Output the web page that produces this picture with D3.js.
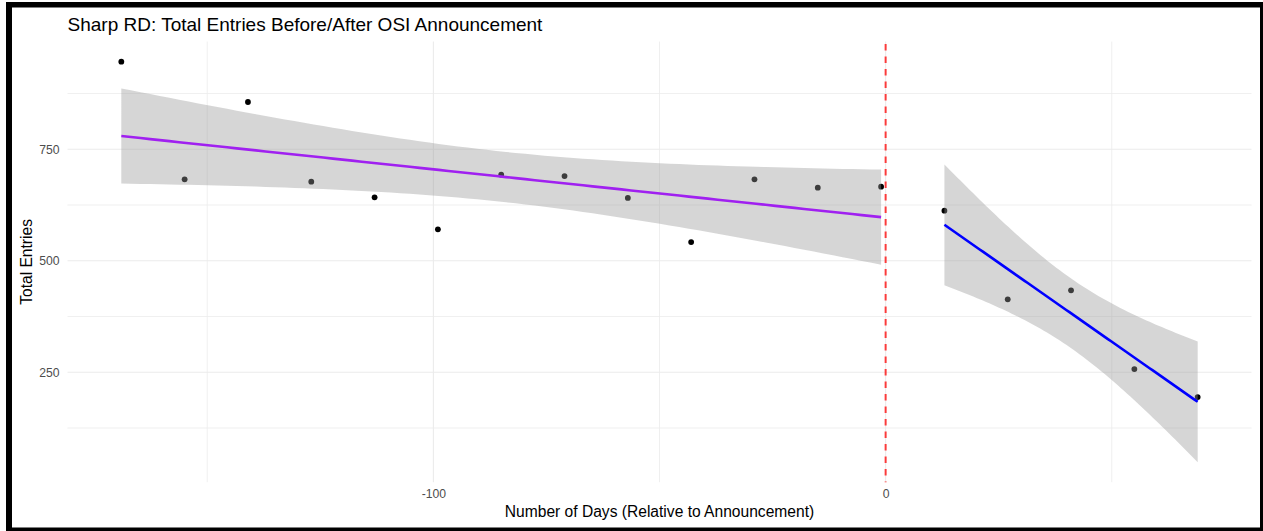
<!DOCTYPE html>
<html>
<head>
<meta charset="utf-8">
<script src="https://cdn.jsdelivr.net/npm/d3@7/dist/d3.min.js"></script>
<style>
  html, body { margin: 0; padding: 0; background: #fff; }
  svg { display: block; }
  text { font-family: "Liberation Sans", Arial, Helvetica, sans-serif; }
</style>
</head>
<body>
<svg id="chart" width="1263" height="531"></svg>
<script>
// ---- Data ----
const daysBefore = [-169, -155, -141, -127, -113, -99, -85, -71, -57, -43, -29, -15, -1];
const entriesBefore = [946.5, 682.7, 856, 677.4, 642.3, 570.5, 693, 690, 640.8, 542, 682.7, 663.9, 666.2];
const daysAfter = [13, 27, 41, 55, 69];
const entriesAfter = [612.3, 413.5, 433.7, 257.2, 194.4];
const xMajorBreaks = [-100, 0];
const xMinorBreaks = [-150, -50, 50];
const yMajorBreaks = [250, 500, 750];
const yMinorBreaks = [125, 375, 625, 875];
const cutoff = 0;
const tQuantBefore = 2.200985; // t(0.975, df=11)
const tQuantAfter = 3.182446;  // t(0.975, df=3)

const title = "Sharp RD: Total Entries Before/After OSI Announcement";
const xTitle = "Number of Days (Relative to Announcement)";
const yTitle = "Total Entries";

// ---- linear fit with 95% confidence band (like geom_smooth(method = "lm")) ----
function lmBand(xs, ys, tq, nOut) {
  const n = xs.length;
  const mx = d3.mean(xs), my = d3.mean(ys);
  let sxx = 0, sxy = 0;
  for (let i = 0; i < n; i++) { sxx += (xs[i]-mx)**2; sxy += (xs[i]-mx)*(ys[i]-my); }
  const b = sxy / sxx, a = my - b*mx;
  let ssr = 0;
  for (let i = 0; i < n; i++) ssr += (ys[i] - (a + b*xs[i]))**2;
  const s = Math.sqrt(ssr / (n - 2));
  const [x0, x1] = d3.extent(xs);
  const out = [];
  for (let i = 0; i < nOut; i++) {
    const x = x0 + (x1 - x0) * i / (nOut - 1);
    const fit = a + b*x;
    const se = s * Math.sqrt(1/n + (x-mx)**2 / sxx);
    out.push({x, fit, lo: fit - tq*se, hi: fit + tq*se});
  }
  return out;
}
const bandBefore = lmBand(daysBefore, entriesBefore, tQuantBefore, 80);
const bandAfter = lmBand(daysAfter, entriesAfter, tQuantAfter, 80);

// ---- Layout ----
const svg = d3.select("#chart");
const W = 1263, H = 531;
const panel = {left: 67.5, right: 1251.5, top: 41.6, bottom: 482.2};

const allX = daysBefore.concat(daysAfter);
const xr = d3.extent(allX);
const xPad = (xr[1]-xr[0]) * 0.05;
const x = d3.scaleLinear().domain([xr[0]-xPad, xr[1]+xPad]).range([panel.left, panel.right]);

const allY = entriesBefore.concat(entriesAfter)
  .concat(bandBefore.map(d => d.lo)).concat(bandBefore.map(d => d.hi))
  .concat(bandAfter.map(d => d.lo)).concat(bandAfter.map(d => d.hi));
const yr = d3.extent(allY);
const yPad = (yr[1]-yr[0]) * 0.05;
const y = d3.scaleLinear().domain([yr[0]-yPad, yr[1]+yPad]).range([panel.bottom, panel.top]);

// ---- Grid ----
const grid = svg.append("g");
grid.selectAll(".ymin").data(yMinorBreaks.filter(v => v >= y.domain()[0] && v <= y.domain()[1])).enter().append("line")
  .attr("x1", panel.left).attr("x2", panel.right)
  .attr("y1", d => y(d)).attr("y2", d => y(d))
  .attr("stroke", "#ebebeb").attr("stroke-width", 0.8);
grid.selectAll(".xmin").data(xMinorBreaks).enter().append("line")
  .attr("y1", panel.top).attr("y2", panel.bottom)
  .attr("x1", d => x(d)).attr("x2", d => x(d))
  .attr("stroke", "#ebebeb").attr("stroke-width", 0.8);
grid.selectAll(".ymaj").data(yMajorBreaks).enter().append("line")
  .attr("x1", panel.left).attr("x2", panel.right)
  .attr("y1", d => y(d)).attr("y2", d => y(d))
  .attr("stroke", "#ebebeb").attr("stroke-width", 1.1);
grid.selectAll(".xmaj").data(xMajorBreaks).enter().append("line")
  .attr("y1", panel.top).attr("y2", panel.bottom)
  .attr("x1", d => x(d)).attr("x2", d => x(d))
  .attr("stroke", "#ebebeb").attr("stroke-width", 1.1);

// ---- Axes (text only, like theme_minimal) ----
const fmt = d => String(d);
const xAxis = d3.axisBottom(x).tickValues(xMajorBreaks).tickSize(0).tickPadding(0).tickFormat(fmt);
const gx = svg.append("g").attr("transform", `translate(0,${panel.bottom + 7})`).call(xAxis);
gx.select(".domain").remove();
gx.attr("font-family", null).attr("font-size", null);
gx.selectAll("text").attr("fill", "#4d4d4d").style("font-size", "12.2px")
  .style("font-family", "'Liberation Sans', Arial, sans-serif").attr("dy", "0.71em");

const yAxis = d3.axisLeft(y).tickValues(yMajorBreaks).tickSize(0).tickPadding(0).tickFormat(fmt);
const gy = svg.append("g").attr("transform", `translate(${panel.left - 8},0)`).call(yAxis);
gy.select(".domain").remove();
gy.attr("font-family", null).attr("font-size", null);
gy.selectAll("text").attr("fill", "#4d4d4d").style("font-size", "12.2px")
  .style("font-family", "'Liberation Sans', Arial, sans-serif");

// ---- Points (drawn under the ribbons, as ggplot layers them) ----
const pts = daysBefore.map((d, i) => ({x: d, y: entriesBefore[i]}))
  .concat(daysAfter.map((d, i) => ({x: d, y: entriesAfter[i]})));
svg.append("g").selectAll("circle").data(pts).enter().append("circle")
  .attr("cx", d => x(d.x)).attr("cy", d => y(d.y)).attr("r", 2.9).attr("fill", "#000");

// ---- Ribbons + fitted lines ----
const area = d3.area().x(d => x(d.x)).y0(d => y(d.lo)).y1(d => y(d.hi));
const line = d3.line().x(d => x(d.x)).y(d => y(d.fit));
[[bandBefore, "#A020F0"], [bandAfter, "#0000FF"]].forEach(([b, col]) => {
  svg.append("path").datum(b).attr("d", area).attr("fill", "#999999").attr("fill-opacity", 0.4);
  svg.append("path").datum(b).attr("d", line).attr("fill", "none").attr("stroke", col).attr("stroke-width", 2.6);
});

// ---- Cutoff line ----
svg.append("line")
  .attr("x1", x(cutoff)).attr("x2", x(cutoff))
  .attr("y1", panel.top).attr("y2", panel.bottom)
  .attr("stroke", "#ff0000").attr("stroke-opacity", 0.75).attr("stroke-width", 2)
  .attr("stroke-dasharray", "6.3,6.2").attr("stroke-dashoffset", -2.5);

// ---- Titles ----
svg.append("text").attr("x", panel.left).attr("y", 30.5).attr("font-size", 19).attr("fill", "#000").text(title);
svg.append("text").attr("x", (panel.left + panel.right)/2).attr("y", 516.5).attr("text-anchor", "middle")
  .attr("font-size", 15.6).attr("fill", "#000").text(xTitle);
svg.append("text").attr("transform", `translate(32,${(panel.top + panel.bottom)/2}) rotate(-90)`)
  .attr("text-anchor", "middle").attr("font-size", 15.6).attr("fill", "#000").text(yTitle);

// ---- Black frame ----
const frame = svg.append("g").attr("fill", "#000");
frame.append("rect").attr("x", 6).attr("y", 2).attr("width", W - 6).attr("height", 5.5);
frame.append("rect").attr("x", 6).attr("y", 2).attr("width", 6).attr("height", H - 2);
frame.append("rect").attr("x", W - 3).attr("y", 2).attr("width", 3).attr("height", H - 2);
frame.append("rect").attr("x", 6).attr("y", H - 3.5).attr("width", W - 6).attr("height", 3.5);
</script>
</body>
</html>
